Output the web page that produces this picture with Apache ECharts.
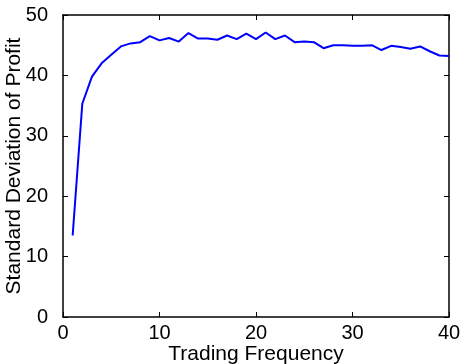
<!DOCTYPE html>
<html>
<head>
<meta charset="utf-8">
<script src="https://cdn.jsdelivr.net/npm/echarts@6/dist/echarts.min.js"></script>
<style>html,body{margin:0;padding:0;background:#fff}#c{width:461px;height:364px}</style>
</head>
<body>
<div id="c"></div>
<script>
var frequency = [1,2,3,4,5,6,7,8,9,10,11,12,13,14,15,16,17,18,19,20,21,22,23,24,25,26,27,28,29,30,31,32,33,34,35,36,37,38,39,40];
var stdProfit = [13.5,35.3,39.8,42.0,43.4,44.8,45.3,45.5,46.5,45.8,46.2,45.6,47.0,46.1,46.1,45.9,46.6,46.0,46.9,46.0,47.1,46.0,46.6,45.5,45.6,45.5,44.5,45.0,45.0,44.9,44.9,45.0,44.2,44.9,44.7,44.4,44.8,44.0,43.3,43.2];
var xTicks = [0,10,20,30,40];
var yTicks = [0,10,20,30,40,50];

var font = '"Liberation Sans", Arial, sans-serif';
var chart = echarts.init(document.getElementById('c'), null, {renderer:'canvas'});
var axisLine = {show:true, onZero:false, lineStyle:{color:'#000', width:1.5}};
var tick = {show:true, inside:true, length:5, lineStyle:{color:'#000', width:1}};
chart.setOption({
  animation:false,
  grid:{left:63, right:12, top:15, bottom:47, containLabel:false, outerBoundsMode:'none'},
  xAxis:[{
    type:'value', min:0, max:40, interval:10, position:'bottom',
    name:'Trading Frequency', nameLocation:'middle', nameGap:27, nameMoveOverlap:false,
    nameTextStyle:{color:'#000', fontSize:21, fontFamily:font},
    axisLine:axisLine, axisTick:tick,
    axisLabel:{color:'#000', fontSize:20, fontFamily:font, margin:6},
    splitLine:{show:false}
  },{
    type:'value', min:0, max:40, interval:10, position:'top',
    axisLine:axisLine, axisTick:tick, axisLabel:{show:false}, splitLine:{show:false}
  }],
  yAxis:[{
    type:'value', min:0, max:50, interval:10, position:'left',
    name:'Standard Deviation of Profit', nameLocation:'middle', nameGap:38, nameMoveOverlap:false,
    nameTextStyle:{color:'#000', fontSize:21, fontFamily:font},
    axisLine:axisLine, axisTick:tick,
    axisLabel:{color:'#000', fontSize:20, fontFamily:font, margin:15},
    splitLine:{show:false}
  },{
    type:'value', min:0, max:50, interval:10, position:'right',
    axisLine:axisLine, axisTick:tick, axisLabel:{show:false}, splitLine:{show:false}
  }],
  series:[{
    type:'line',
    data:frequency.map(function(f,i){return [f, stdProfit[i]];}),
    showSymbol:false, symbol:'none',
    lineStyle:{color:'#0000ff', width:2},
    xAxisIndex:0, yAxisIndex:0
  }]
});
</script>
</body>
</html>
